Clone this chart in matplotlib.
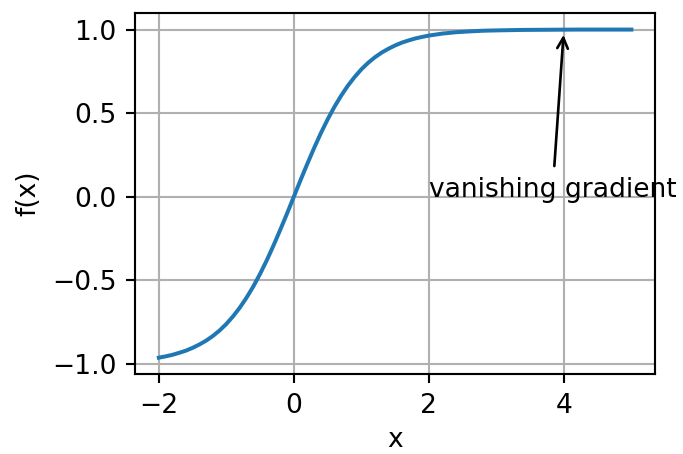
import matplotlib
matplotlib.use("Agg")
import matplotlib.pyplot as plt

# values
x = [-2.0, -1.9, -1.8, -1.7, -1.6, -1.5, -1.4, -1.3, -1.2, -1.1, -1.0,
     -0.9, -0.8, -0.7, -0.6, -0.5, -0.4, -0.3, -0.2, -0.1, 0.0,
     0.1, 0.2, 0.3, 0.4, 0.5, 0.6, 0.7, 0.8, 0.9, 1.0,
     1.1, 1.2, 1.3, 1.4, 1.5, 1.6, 1.7, 1.8, 1.9, 2.0,
     2.2, 2.4, 2.6, 2.8, 3.0, 3.4, 3.8, 4.2, 5.0]
fx = [-0.964, -0.956, -0.947, -0.935, -0.922, -0.905, -0.885, -0.862, -0.834, -0.801, -0.762,
      -0.716, -0.664, -0.604, -0.537, -0.462, -0.380, -0.291, -0.197, -0.100, 0.0,
      0.100, 0.197, 0.291, 0.380, 0.462, 0.537, 0.604, 0.664, 0.716, 0.762,
      0.801, 0.834, 0.862, 0.885, 0.905, 0.922, 0.935, 0.947, 0.956, 0.964,
      0.976, 0.984, 0.989, 0.993, 0.995, 0.998, 0.999, 1.0, 1.0]

note_text = "vanishing gradient"
note_xy = (4, 1)
note_xytext = (2, 0.0)

dpi = 191
fig = plt.figure(figsize=(683 / dpi, 454 / dpi), dpi=dpi)
ax = fig.add_axes([0.198, 0.176, 0.761, 0.795])
ax.plot(x, fx, color="C0", linewidth=1.5)
ax.grid(True)
ax.set_xticks([-2, 0, 2, 4])
ax.set_yticks([-1.0, -0.5, 0.0, 0.5, 1.0])
ax.set_xlabel("x", labelpad=3)
ax.set_ylabel("f(x)")
ax.annotate(note_text, xy=note_xy, xytext=note_xytext,
            arrowprops=dict(arrowstyle="->"))

fig.savefig("out.png", dpi=dpi)
